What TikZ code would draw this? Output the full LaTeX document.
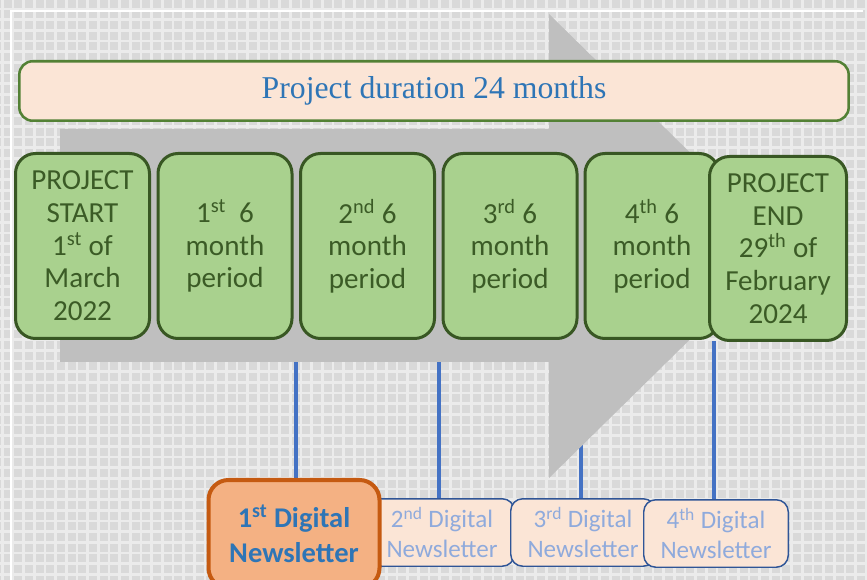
\documentclass[tikz,border=0pt]{standalone}
\usepackage{fontspec}
\setmainfont{Carlito}
\newfontfamily\bannerfont{Liberation Serif}
\usetikzlibrary{calc,backgrounds}
\definecolor{gridgray}{HTML}{D9D9D9}
\definecolor{gridwhite}{HTML}{EBEBEB}
\definecolor{arrowgray}{HTML}{BFBFBF}
\definecolor{periodfill}{HTML}{A9D18E}
\definecolor{perioddraw}{HTML}{385723}
\definecolor{periodtext}{HTML}{3B5B26}
\definecolor{bannerfill}{HTML}{FBE5D6}
\definecolor{bannerdraw}{HTML}{538135}
\definecolor{titleblue}{HTML}{2E75B6}
\definecolor{linkblue}{HTML}{4472C4}
\definecolor{firstfill}{HTML}{F4B183}
\definecolor{firstdraw}{HTML}{C55A11}
\definecolor{newsdraw}{HTML}{2F5597}
\definecolor{newstext}{HTML}{8FAADC}
\tikzset{
  period/.style={draw=perioddraw, fill=periodfill, line width=2.25pt, rounded corners=15pt,
    minimum width=100.5pt, minimum height=138.75pt, inner sep=0pt, align=center,
    text=periodtext, font=\fontsize{21.8}{24.5}\selectfont},
  news/.style={draw=newsdraw, fill=bannerfill, line width=1.1pt, rounded corners=9pt,
    minimum width=108.4pt, minimum height=50.6pt, inner sep=0pt, align=center,
    text=newstext, font=\fontsize{18.8}{22.8}\selectfont},
  link/.style={draw=linkblue, line width=2.8pt}
}
\begin{document}
\begin{tikzpicture}[x=0.75pt,y=-0.75pt]
    \useasboundingbox (0,0) rectangle (867,580);

    \node[draw=bannerdraw, fill=bannerfill, line width=1.9pt, rounded corners=10pt,
      minimum width=622pt, minimum height=44.6pt, text=titleblue,
      font=\bannerfont\fontsize{23.8}{28}\selectfont] (banner) at (434,91) {Project duration 24 months};

    \node[period] (start) at (82.5,246) {PROJECT\\START\\1\textsuperscript{st} of\\March\\2022};
    \node[period] (p1) at (225,246) {1\textsuperscript{st}\ \ 6\\month\\period};
    \node[period] (p2) at (367.5,246) {2\textsuperscript{nd} 6\\month\\period};
    \node[period] (p3) at (510,246) {3\textsuperscript{rd} 6\\month\\period};
    \node[period] (p4) at (652,246) {4\textsuperscript{th} 6\\month\\period};
    \node[period, minimum width=102.75pt, minimum height=138pt] (end) at (778,248.5) {PROJECT\\END\\29\textsuperscript{th} of\\February\\2024};

    \node[news] (n2) at (442,532.5) {2\textsuperscript{nd} Digital\\Newsletter};
    \node[news] (n3) at (583,532.5) {3\textsuperscript{rd} Digital\\Newsletter};
    \node[news] (n4) at (716,533.5) {4\textsuperscript{th} Digital\\Newsletter};
    \node[draw=firstdraw, fill=firstfill, line width=3pt, rounded corners=15pt,
      minimum width=128.25pt, minimum height=81pt, inner sep=0pt, align=center, text=titleblue,
      font=\bfseries\fontsize{21.4}{26}\selectfont] (n1) at (294,534) {1\textsuperscript{st} Digital\\Newsletter};

    \coordinate (e1) at ($(p1.south east)!0.5!(p2.south west)$);
    \coordinate (e2) at ($(p2.south east)!0.5!(p3.south west)$);
    \coordinate (e3) at ($(p3.south east)!0.5!(p4.south west)$);
    \coordinate (e4) at ($(p4.south east)!0.5!(end.south west)$);

    \begin{scope}[on background layer]
        \fill[gridgray] (0,0) rectangle (867,580);
        \foreach \i in {0,...,81}
            \draw[gridwhite, line width=1.9pt] (2.3+10.667*\i,0) -- ++(0,580);
        \foreach \j in {-1,...,54}
            \draw[gridwhite, line width=1.9pt] (0,9+10.667*\j) -- ++(867,0);
        \draw[white, line width=2pt] (863,11) -- (11,11) -- (11,580);

        \draw[link] (e1) -- (e1 |- n1.north);
        \draw[link] (e2) -- (e2 |- n2.north);
        \draw[link] (e3) -- (e3 |- n3.north);
        \draw[link] (e4) -- (e4 |- n4.north);

        \fill[arrowgray] (60,129) -- (549,129) -- (549,14) -- (785,246) -- (549,478) -- (549,362) -- (60,362) -- cycle;
    \end{scope}
\end{tikzpicture}
\end{document}
